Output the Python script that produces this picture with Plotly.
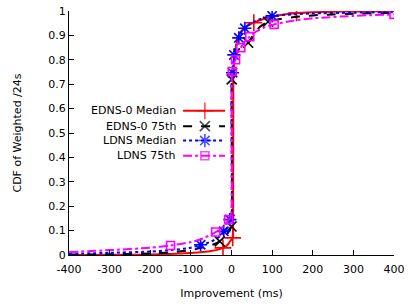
import plotly.graph_objects as go

# ---------------- data ----------------
series_names = ["EDNS-0 Median", "EDNS-0 75th", "LDNS Median", "LDNS 75th"]

edns_med_x = [-400, -300, -200, -150, -100, -70, -50, -35, -21, -12, -6, -2, 1, 3, 4, 4.5, 6, 9, 13, 18, 25, 35, 45, 55, 75, 100, 130, 160, 200, 250, 300, 400]
edns_med_y = [0.0, 0.001, 0.002, 0.004, 0.008, 0.012, 0.016, 0.021, 0.029, 0.038, 0.05, 0.06, 0.065, 0.07, 0.1, 0.72, 0.78, 0.83, 0.87, 0.9, 0.92, 0.935, 0.945, 0.952, 0.965, 0.977, 0.986, 0.992, 0.995, 0.997, 0.998, 0.999]
edns_med_mx = [-21, 3, 55, 160]
edns_med_my = [0.029, 0.07, 0.952, 0.992]

edns_75_x = [-400, -300, -200, -150, -100, -60, -45, -29, -18, -10, -5, -2, 0, 0.5, 3, 6, 10, 15, 22, 30, 41, 55, 70, 90, 120, 160, 200, 250, 300, 400]
edns_75_y = [0.002, 0.003, 0.006, 0.011, 0.02, 0.035, 0.043, 0.056, 0.072, 0.088, 0.1, 0.11, 0.117, 0.72, 0.76, 0.79, 0.815, 0.835, 0.85, 0.86, 0.87, 0.905, 0.935, 0.956, 0.967, 0.976, 0.982, 0.986, 0.989, 0.992]
edns_75_mx = [-29, 0, 0.5, 41, 90]
edns_75_my = [0.056, 0.117, 0.72, 0.87, 0.956]

ldns_med_x = [-400, -300, -200, -150, -100, -76, -50, -30, -18, -10, -4, -1, 0, 0.5, 2.5, 5, 10, 18, 25, 33, 45, 60, 80, 100, 150, 200, 300, 400]
ldns_med_y = [0.005, 0.009, 0.014, 0.02, 0.03, 0.042, 0.055, 0.075, 0.095, 0.115, 0.145, 0.15, 0.155, 0.72, 0.747, 0.8, 0.85, 0.89, 0.91, 0.929, 0.945, 0.96, 0.972, 0.98, 0.986, 0.99, 0.993, 0.995]
ldns_med_mx = [-76, -19, -4, 2.5, 6, 18, 33, 100]
ldns_med_my = [0.042, 0.097, 0.145, 0.747, 0.82, 0.89, 0.929, 0.98]

ldns_75_x = [-400, -300, -200, -150, -100, -70, -39, -25, -15, -7, -3, -1, 0, 0.5, 2, 5, 10, 16, 23, 33, 45, 60, 80, 105, 150, 200, 300, 400]
ldns_75_y = [0.012, 0.02, 0.03, 0.039, 0.053, 0.068, 0.094, 0.11, 0.125, 0.145, 0.15, 0.155, 0.16, 0.72, 0.752, 0.78, 0.8, 0.83, 0.85, 0.875, 0.895, 0.915, 0.932, 0.945, 0.96, 0.97, 0.98, 0.986]
ldns_75_mx = [-150, -39, -7, 2, 10, 23, 45, 105, 400]
ldns_75_my = [0.039, 0.094, 0.145, 0.752, 0.8, 0.85, 0.895, 0.945, 0.986]

x_ticks = [-400, -300, -200, -100, 0, 100, 200, 300, 400]
y_ticks = [0, 0.1, 0.2, 0.3, 0.4, 0.5, 0.6, 0.7, 0.8, 0.9, 1]
y_tick_labels = ["0", "0.1", "0.2", "0.3", "0.4", "0.5", "0.6", "0.7", "0.8", "0.9", "1"]

# ---------------- styles ----------------
colors = ["#ff0000", "#000000", "#0000ff", "#ff00ff"]
dashes = ["solid", "dash", "dot", "dashdot"]
symbols = ["cross-thin-open", "x-thin-open", "asterisk-open", "square-open"]
msizes = [12, 10, 11, 8]

lines = [(edns_med_x, edns_med_y, edns_med_mx, edns_med_my),
         (edns_75_x, edns_75_y, edns_75_mx, edns_75_my),
         (ldns_med_x, ldns_med_y, ldns_med_mx, ldns_med_my),
         (ldns_75_x, ldns_75_y, ldns_75_mx, ldns_75_my)]

FONT = "DejaVu Sans"
fig = go.Figure()

for i, (x, y, mx, my) in enumerate(lines):
    fig.add_trace(go.Scatter(x=x, y=y, mode="lines", name=series_names[i],
                             line=dict(color=colors[i], width=2, dash=dashes[i], shape="spline", smoothing=0.6),
                             showlegend=False, hoverinfo="skip"))
    fig.add_trace(go.Scatter(x=mx, y=my, mode="markers", showlegend=False,
                             marker=dict(symbol=symbols[i], size=msizes[i], color=colors[i],
                                         line=dict(color=colors[i], width=1.6))))

# ---------------- legend (gnuplot style: text right, sample left->right) ----------------
leg_y = [0.591, 0.528, 0.469, 0.407]
for i in range(4):
    fig.add_trace(go.Scatter(x=[0.351, 0.418, 0.48], y=[leg_y[i]] * 3, xaxis="x2", yaxis="y2",
                             mode="lines+markers", showlegend=False, hoverinfo="skip",
                             line=dict(color=colors[i], width=2, dash=dashes[i]),
                             marker=dict(symbol=symbols[i], size=[0, msizes[i], 0], color=colors[i],
                                         line=dict(color=colors[i], width=1.6))))
    fig.add_annotation(x=0.335, y=leg_y[i], xref="paper", yref="paper", text=series_names[i],
                       showarrow=False, xanchor="right", yanchor="middle",
                       font=dict(family=FONT, size=11, color="#000000"))

axis_common = dict(showgrid=False, zeroline=False, showline=True, linecolor="#000000", linewidth=1,
                   ticks="inside", ticklen=5, tickcolor="#000000", tickwidth=1,
                   tickfont=dict(family=FONT, size=11, color="#000000"), mirror=False)

fig.update_layout(
    width=409, height=304,
    margin=dict(l=69, r=15, t=11, b=49, autoexpand=False),
    paper_bgcolor="white", plot_bgcolor="white",
    showlegend=False,
    xaxis=dict(range=[-400, 400], tickvals=x_ticks, ticktext=[str(v) for v in x_ticks],
               ticklabelstandoff=4,
               title=dict(text="Improvement (ms)", font=dict(family=FONT, size=11, color="#000000"), standoff=14),
               automargin=False, **axis_common),
    yaxis=dict(range=[0, 1], tickvals=y_ticks, ticktext=y_tick_labels,
               title=dict(text="CDF of Weighted /24s", font=dict(family=FONT, size=11, color="#000000"), standoff=24),
               automargin=False, **axis_common),
    xaxis2=dict(overlaying="x", range=[0, 1], visible=False, fixedrange=True),
    yaxis2=dict(overlaying="y", range=[0, 1], visible=False, fixedrange=True),
)

fig.write_html("out.html", config={"displayModeBar": False},
               post_script="document.body.style.margin='0';document.body.style.overflow='hidden';")
